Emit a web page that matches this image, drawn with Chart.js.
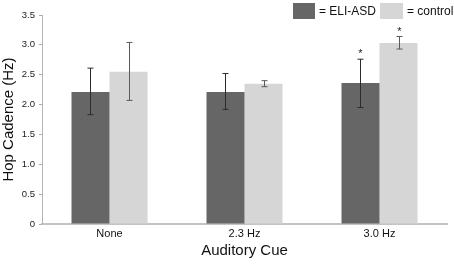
<!DOCTYPE html>
<html><head><meta charset="utf-8">
<script src="https://cdn.jsdelivr.net/npm/chart.js@4/dist/chart.umd.min.js"></script>
<style>html,body{margin:0;padding:0;background:#fff}#wrap{width:454px;height:267px;position:relative}</style>
</head><body><div id="wrap"><canvas id="c"></canvas></div>
<script>
const categories = ['None', '2.3 Hz', '3.0 Hz'];
const eliMeans = [2.21, 2.21, 2.36];
const eliLow = [1.83, 1.92, 1.95];
const eliHigh = [2.61, 2.52, 2.76];
const ctrlMeans = [2.55, 2.35, 3.03];
const ctrlLow = [2.07, 2.30, 2.93];
const ctrlHigh = [3.04, 2.40, 3.14];
const eliSig = [false, false, true];
const ctrlSig = [false, false, true];
const yTicks = [0, 0.5, 1, 1.5, 2, 2.5, 3, 3.5];

const FONT = "'Liberation Sans', Arial, sans-serif";
const DARK = '#666666', LIGHT = '#d6d6d6';

const errPlugin = {
  id: 'err',
  afterDatasetsDraw(chart) {
    const ctx = chart.ctx, y = chart.scales.y;
    const sets = [[eliLow, eliHigh, eliSig, '#2b2b2b'], [ctrlLow, ctrlHigh, ctrlSig, '#5a5a5a']];
    sets.forEach((s, di) => {
      const meta = chart.getDatasetMeta(di);
      meta.data.forEach((bar, i) => {
        const x = Math.round(bar.x) + 0.5;
        const yl = y.getPixelForValue(s[0][i]);
        const yh = y.getPixelForValue(s[1][i]);
        ctx.save();
        ctx.strokeStyle = s[3];
        ctx.lineWidth = 1;
        ctx.beginPath();
        ctx.moveTo(x, yl); ctx.lineTo(x, yh);
        ctx.moveTo(x - 3, yl); ctx.lineTo(x + 3, yl);
        ctx.moveTo(x - 3, yh); ctx.lineTo(x + 3, yh);
        ctx.stroke();
        if (s[2][i]) {
          ctx.fillStyle = '#222';
          ctx.font = '11px ' + FONT;
          ctx.textAlign = 'center';
          ctx.textBaseline = 'middle';
          ctx.fillText('*', x, yh - 5);
        }
        ctx.restore();
      });
    });
  }
};

const legendPlugin = {
  id: 'customLegend',
  afterDraw(chart) {
    const ctx = chart.ctx;
    ctx.save();
    ctx.fillStyle = DARK;
    ctx.fillRect(293, 3, 22, 16);
    ctx.fillStyle = LIGHT;
    ctx.fillRect(380, 3, 23, 16);
    ctx.fillStyle = '#111';
    ctx.font = '12px ' + FONT;
    ctx.textBaseline = 'middle';
    ctx.textAlign = 'left';
    ctx.fillText('= ELI-ASD', 319, 11.5);
    ctx.fillText('= control', 407, 11.5);
    ctx.restore();
  }
};

new Chart(document.getElementById('c'), {
  type: 'bar',
  data: {
    labels: categories,
    datasets: [
      { label: '= ELI-ASD', data: eliMeans, backgroundColor: DARK, categoryPercentage: 0.563, barPercentage: 1 },
      { label: '= control', data: ctrlMeans, backgroundColor: LIGHT, categoryPercentage: 0.563, barPercentage: 1 }
    ]
  },
  options: {
    responsive: true,
    maintainAspectRatio: false,
    animation: false,
    layout: { padding: { top: 15, right: 7, bottom: 0, left: 0 } },
    plugins: { legend: { display: false }, tooltip: { enabled: false } },
    scales: {
      x: {
        grid: { display: false, drawTicks: false, tickLength: 0 },
        border: { color: '#c4c4c4', width: 2 },
        ticks: { color: '#111', font: { family: FONT, size: 11 }, padding: 3 },
        title: { display: true, text: 'Auditory Cue', color: '#111', font: { family: FONT, size: 15 }, padding: { top: 2, bottom: 7 } },
        afterFit(s) { s.height = 43; }
      },
      y: {
        min: 0, max: 3.5,
        afterBuildTicks(s) { s.ticks = yTicks.map(v => ({ value: v })); },
        grid: { drawOnChartArea: false, drawTicks: true, tickLength: 3, color: '#aaa' },
        border: { color: '#b4b4b4', width: 1 },
        ticks: { color: '#222', font: { family: FONT, size: 9.5 }, padding: 4 },
        title: { display: true, text: 'Hop Cadence (Hz)', color: '#111', font: { family: FONT, size: 15 }, padding: { top: 0, bottom: 2 } },
        afterFit(s) { s.width = 42; }
      }
    }
  },
  plugins: [errPlugin, legendPlugin]
});
</script></body></html>
